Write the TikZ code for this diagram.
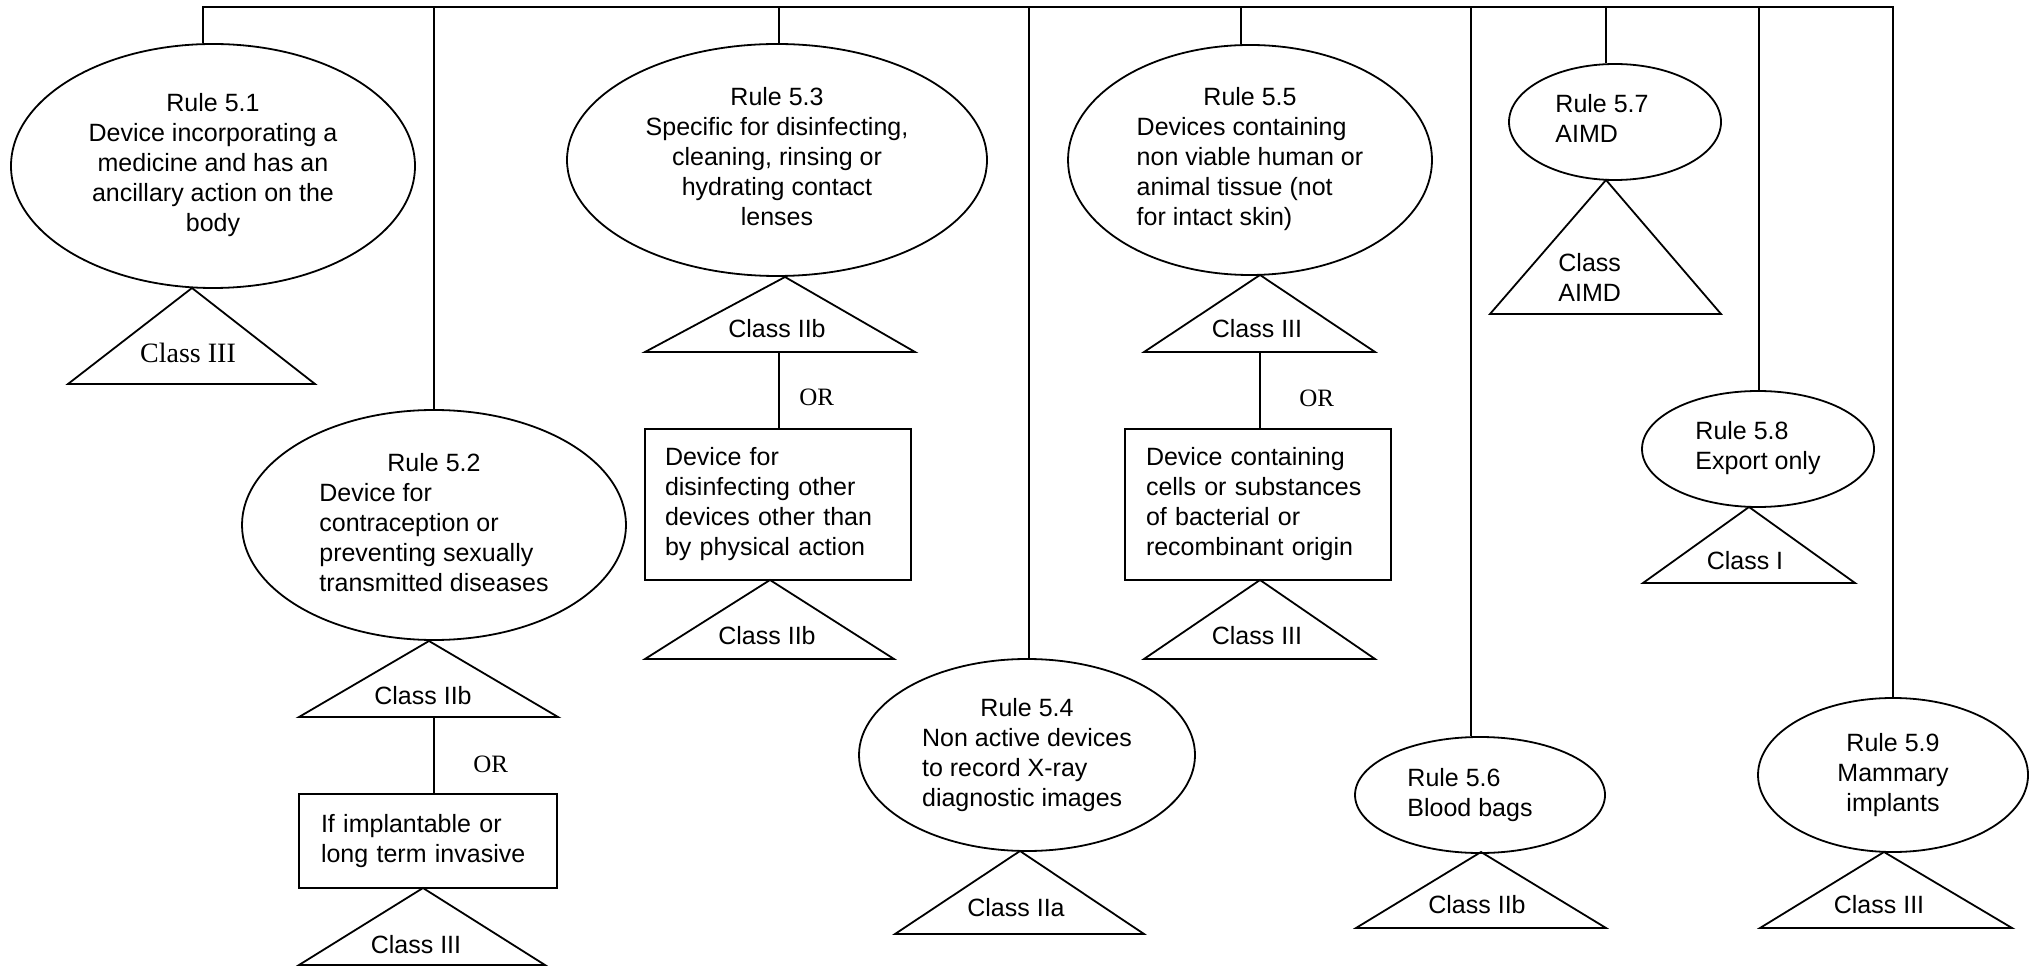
\documentclass[tikz,border=0pt]{standalone}
\usepackage{fontspec}
\setmainfont{Liberation Sans}
\newfontfamily\timesfont{Liberation Serif}
\usetikzlibrary{shapes.geometric}

% text blocks: centred, left aligned, and a centred heading line
\newcommand\ctext[1]{\begin{tabular}{@{}c@{}}#1\end{tabular}}
\newcommand\ltext[1]{\begin{tabular}{@{}l@{}}#1\end{tabular}}
\newcommand\rulehead[1]{\multicolumn{1}{@{}c@{}}{#1}}

% class triangle: name, apex x, apex y, left x, right x, base y
\newcommand\classtri[6]{%
  \coordinate (#1-top) at (#2,#3);
  \coordinate (#1-r) at (#5,#6);
  \coordinate (#1-l) at (#4,#6);
  \draw[edge] (#1-top) -- (#1-r) -- (#1-l) -- cycle;
}

\begin{document}
\begin{tikzpicture}[x=0.5pt, y=-0.5pt,
  font=\fontsize{12.5}{15}\selectfont,
  edge/.style={line width=0.9pt, line join=miter},
  rule/.style={draw, ellipse, line width=0.9pt, inner sep=0pt},
  cond/.style={draw, rectangle, line width=0.9pt, inner ysep=0pt, align=left},
  cls/.style={anchor=base, inner sep=0pt},
  orlbl/.style={anchor=base west, inner sep=0pt, font=\timesfont\fontsize{12.5}{15}\selectfont}]

\useasboundingbox (0,0) rectangle (2033,967);

% attachment points on the top bus
\coordinate (t51) at (203,7);
\coordinate (t52) at (434,7);
\coordinate (t53) at (779,7);
\coordinate (t54) at (1029,7);
\coordinate (t55) at (1241,7);
\coordinate (t56) at (1471,7);
\coordinate (t57) at (1606,7);
\coordinate (t58) at (1759,7);
\coordinate (t59) at (1893,7);

% rule ellipses
\node[rule, minimum width=202pt, minimum height=122pt] (e51) at (213,166)
  {\ctext{Rule 5.1\\Device incorporating a\\medicine and has an\\ancillary action on the\\body}};
\node[rule, minimum width=192pt, minimum height=115pt] (e52) at (434,525)
  {\ltext{\rulehead{Rule 5.2}\\Device for\\contraception or\\preventing sexually\\transmitted diseases}};
\node[rule, minimum width=210pt, minimum height=116pt] (e53) at (777,160)
  {\ctext{Rule 5.3\\Specific for disinfecting,\\cleaning, rinsing or\\hydrating contact\\lenses}};
\node[rule, minimum width=168pt, minimum height=96pt] (e54) at (1027,755)
  {\ltext{\rulehead{Rule 5.4}\\Non active devices\\to record X-ray\\diagnostic images}};
\node[rule, minimum width=182pt, minimum height=115pt] (e55) at (1250,160)
  {\ltext{\rulehead{Rule 5.5}\\Devices containing\\non viable human or\\animal tissue (not\\for intact skin)}};
\node[rule, minimum width=125pt, minimum height=58pt] (e56) at (1480,795)
  {\ltext{Rule 5.6\\Blood bags}\kern10pt};
\node[rule, minimum width=106pt, minimum height=58pt] (e57) at (1615,122)
  {\ltext{Rule 5.7\\AIMD}\kern13pt};
\node[rule, minimum width=116pt, minimum height=58pt] (e58) at (1758,449)
  {\ltext{Rule 5.8\\Export only}};
\node[rule, minimum width=135pt, minimum height=77pt] (e59) at (1893,775)
  {\ctext{Rule 5.9\\Mammary\\implants}};

% bus and drops to each rule
\draw[edge] (t51 |- e51.north) -- (t51) -- (t59) -- (t59 |- e59.north);
\draw[edge] (t52) -- (t52 |- e52.north);
\draw[edge] (t53) -- (t53 |- e53.north);
\draw[edge] (t54) -- (t54 |- e54.north);
\draw[edge] (t55) -- (t55 |- e55.north);
\draw[edge] (t56) -- (t56 |- e56.north);
\draw[edge] (t57) -- (t57 |- e57.north);
\draw[edge] (t58) -- (t58 |- e58.north);

% alternative condition boxes
\node[cond, minimum width=129pt, minimum height=47pt, text width=107pt, inner xsep=11pt] (b52) at (428,841)
  {\noindent\ltext{If implantable or\\long term invasive}};
\node[cond, minimum width=133pt, minimum height=75.5pt, text width=113pt, inner xsep=10pt] (b53) at (778,504.5)
  {\noindent\ltext{Device for\\disinfecting other\\devices other than\\by physical action}};
\node[cond, minimum width=133pt, minimum height=75.5pt, text width=112pt, inner xsep=10.5pt] (b55) at (1258,504.5)
  {\noindent\ltext{Device containing\\cells or substances\\of bacterial or\\recombinant origin}};

% class triangles
\classtri{k51}{192}{288}{68}{315}{384}
\classtri{k52a}{429}{641}{299}{558}{717}
\classtri{k52b}{423}{888}{299}{545}{965}
\classtri{k53a}{785}{277}{645}{915}{352}
\classtri{k53b}{770}{580}{645}{894}{659}
\classtri{k54}{1020}{851}{895}{1144}{934}
\classtri{k55a}{1260}{275}{1144}{1375}{352}
\classtri{k55b}{1260}{580}{1144}{1375}{659}
\classtri{k56}{1481}{852}{1356}{1606}{928}
\classtri{k57}{1606}{180}{1490}{1721}{314}
\classtri{k58}{1749}{507}{1643}{1855}{583}
\classtri{k59}{1884}{852}{1760}{2012}{928}

% class labels
\node[cls, font=\timesfont\fontsize{14}{16}\selectfont] (c51) at (188,363) {Class III};
\node[cls] (c52a) at (423,704) {Class IIb};
\node[cls] (c52b) at (416,953) {Class III};
\node[cls] (c53a) at (777,338) {Class IIb};
\node[cls] (c53b) at (767,644) {Class IIb};
\node[cls] (c54) at (1016,916) {Class IIa};
\node[cls] (c55a) at (1257,338) {Class III};
\node[cls] (c55b) at (1257,644) {Class III};
\node[cls] (c56) at (1477,913) {Class IIb};
\node[cls, anchor=base west] (c57) at (1558,272) {\begin{tabular}[t]{@{}l@{}}Class\\AIMD\end{tabular}};
\node[cls] (c58) at (1745,569) {Class I};
\node[cls] (c59) at (1879,913) {Class III};

% OR branches from a class to its alternative condition
\coordinate (o52) at (434,717);
\coordinate (o53) at (779,352);
\coordinate (o55) at (1260,352);
\draw[edge] (o52) -- (o52 |- b52.north);
\draw[edge] (o53) -- (o53 |- b53.north);
\draw[edge] (o55) -- (o55 |- b55.north);
\node[orlbl] (or52) at (473,772) {OR};
\node[orlbl] (or53) at (799,406) {OR};
\node[orlbl] (or55) at (1299,407) {OR};

\end{tikzpicture}
\end{document}
